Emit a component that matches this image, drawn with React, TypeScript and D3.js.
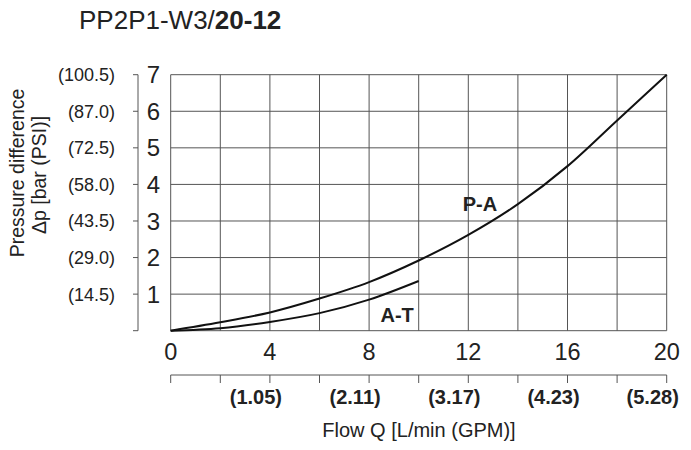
import React from "react";
import * as d3 from "d3";

const titleNormal = "PP2P1-W3/";
const titleBold = "20-12";
const yTicks = [0, 1, 2, 3, 4, 5, 6, 7];
const yTickLabels = ["", "1", "2", "3", "4", "5", "6", "7"];
const psiLabels = ["", "(14.5)", "(29.0)", "(43.5)", "(58.0)", "(72.5)", "(87.0)", "(100.5)"];
const xGrid = [0, 2, 4, 6, 8, 10, 12, 14, 16, 18, 20];
const xTickLabels = [0, 4, 8, 12, 16, 20];
const gpmTicks = [4, 8, 12, 16, 20];
const gpmLabels = ["(1.05)", "(2.11)", "(3.17)", "(4.23)", "(5.28)"];

const paFlow = [0, 2, 4, 6, 8, 10, 12, 14, 16, 18, 20];
const paPressure = [0, 0.23, 0.5, 0.88, 1.33, 1.92, 2.62, 3.46, 4.5, 5.75, 7.0];
const atFlow = [0, 2, 4, 6, 8, 10];
const atPressure = [0, 0.07, 0.24, 0.48, 0.85, 1.36];

const font = "'Liberation Sans', Arial, sans-serif";

export default function App() {
  const W = 691, H = 450;
  const x = d3.scaleLinear().domain([0, 20]).range([170.7, 666.7]);
  const y = d3.scaleLinear().domain([0, 7]).range([330.7, 74.7]);
  const line = d3
    .line<[number, number]>()
    .x((d) => x(d[0]))
    .y((d) => y(d[1]))
    .curve(d3.curveMonotoneX);
  const pa = line(paFlow.map((q, i) => [q, paPressure[i]] as [number, number])) || "";
  const at = line(atFlow.map((q, i) => [q, atPressure[i]] as [number, number])) || "";
  const axX = 138;
  const secY = 375;
  const grid = "#555";
  const txt = "#222";

  return (
    <svg width={W} height={H} style={{ position: "absolute", left: 0, top: 0, background: "#fff" }} fontFamily={font}>
      <text x={79} y={28.5} fontSize={26} fill={txt}>
        {titleNormal}
        <tspan fontWeight="bold">{titleBold}</tspan>
      </text>

      {/* grid */}
      {yTicks.map((v) => (
        <line key={"h" + v} x1={x(0)} x2={x(20)} y1={y(v)} y2={y(v)} stroke={grid} strokeWidth={1} />
      ))}
      {xGrid.map((v) => (
        <line key={"v" + v} x1={x(v)} x2={x(v)} y1={y(0)} y2={y(7)} stroke={grid} strokeWidth={1} />
      ))}

      {/* left axis */}
      <line x1={axX} x2={axX} y1={y(7)} y2={y(0)} stroke={grid} strokeWidth={1} />
      {yTicks.map((v) => (
        <line key={"t" + v} x1={axX - 5} x2={axX} y1={y(v)} y2={y(v)} stroke={grid} strokeWidth={1} />
      ))}
      {yTicks.map((v, i) => (
        <text key={"yl" + v} x={160} y={y(v)} dy="0.36em" textAnchor="end" fontSize={24} fill={txt}>
          {yTickLabels[i]}
        </text>
      ))}
      {yTicks.map((v, i) => (
        <text key={"pl" + v} x={115} y={y(v)} dy="0.36em" textAnchor="end" fontSize={18} fill={txt}>
          {psiLabels[i]}
        </text>
      ))}
      <text transform="translate(24,173) rotate(-90)" textAnchor="middle" fontSize={19.5} fill={txt}>
        Pressure difference
      </text>
      <text transform="translate(46,175) rotate(-90)" textAnchor="middle" fontSize={19.5} fill={txt}>
        Δp [bar (PSI)]
      </text>

      {/* curves */}
      <path d={pa} fill="none" stroke="#111" strokeWidth={2} />
      <path d={at} fill="none" stroke="#111" strokeWidth={2} />
      <text x={x(12.47)} y={y(3.47)} dy="0.36em" textAnchor="middle" fontSize={20} fontWeight="bold" fill={txt}>
        P-A
      </text>
      <text x={x(9.13)} y={y(0.44)} dy="0.36em" textAnchor="middle" fontSize={20} fontWeight="bold" fill={txt}>
        A-T
      </text>

      {/* x tick labels */}
      {xTickLabels.map((v) => (
        <text key={"xl" + v} x={x(v)} y={351.5} dy="0.36em" textAnchor="middle" fontSize={23.5} fill={txt}>
          {v}
        </text>
      ))}

      {/* secondary axis */}
      <line x1={x(0)} x2={x(20)} y1={secY} y2={secY} stroke={grid} strokeWidth={1} />
      {xGrid.map((v) => (
        <line key={"st" + v} x1={x(v)} x2={x(v)} y1={secY} y2={secY + 8} stroke={grid} strokeWidth={1} />
      ))}
      {gpmTicks.map((v, i) => (
        <text key={"g" + v} x={x(v) - 14} y={397} dy="0.36em" textAnchor="middle" fontSize={20} fontWeight="bold" fill={txt}>
          {gpmLabels[i]}
        </text>
      ))}
      <text x={419} y={430} dy="0.36em" textAnchor="middle" fontSize={20} fill={txt}>
        Flow Q [L/min (GPM)]
      </text>
    </svg>
  );
}
